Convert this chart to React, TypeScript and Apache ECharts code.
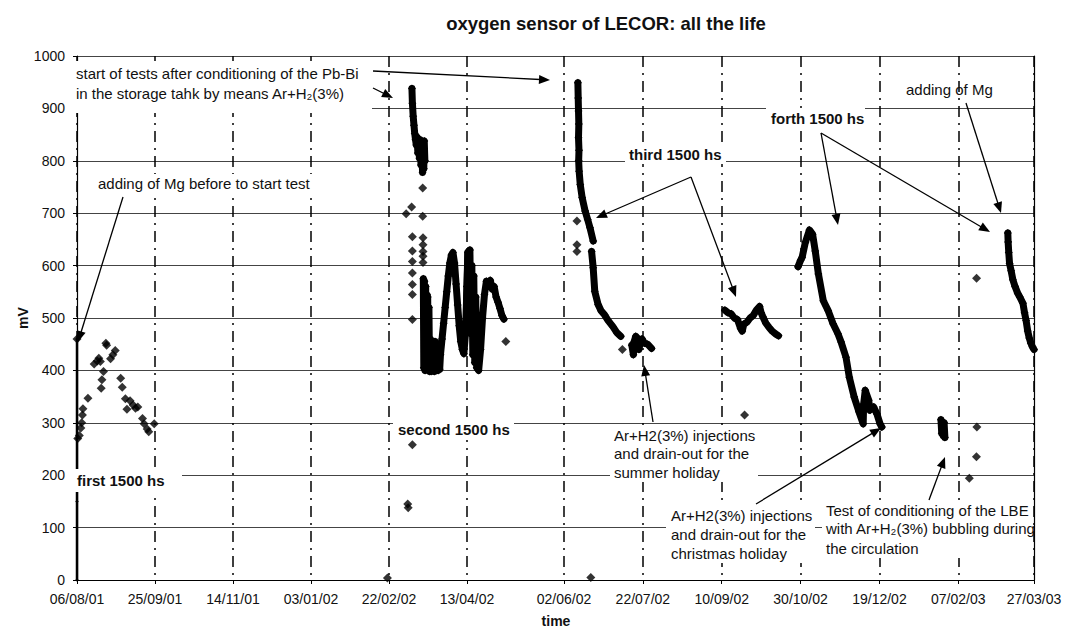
import React, { useEffect, useRef } from "react";
import * as echarts from "echarts";

// x values: days since 06/08/01 ; y values: mV
const X_INTERVAL = 50;
const Y_MAX = 1000;
const Y_INTERVAL = 100;

const startLine = [[0, 0], [0, 150], [0, 270], [0, 460]];

const firstTest = [
  [0, 460], [0.5, 270], [1.5, 276], [2.5, 290], [3, 300], [3.5, 315], [3.8, 327], [7, 347],
  [11, 412], [13, 418], [14, 423], [15, 417], [15.5, 366], [16, 382], [17, 398], [18.5, 452],
  [19, 448], [21.5, 422], [23, 430], [24.5, 438], [28, 385], [29, 368], [31, 346], [32, 326],
  [34, 342], [36, 334], [37.5, 328], [39, 330], [42, 308], [43, 298], [45, 288], [46, 283], [49.5, 298],
];

const secondIsolated = [
  [199, 4], [212, 145], [212.3, 138], [215, 258], [211, 699], [214.5, 712], [221.6, 694], [221.6, 748],
  [215, 655], [215, 628], [215, 608], [215, 586], [215, 564], [215, 545], [215, 497],
  [221.8, 653], [221.8, 640], [221.8, 627], [221.8, 618], [221.8, 606], [270, 455],
];

const secondDescent = [
  [214.7, 938], [215, 910], [215.5, 885], [216, 868], [216.5, 852], [217, 840], [217.5, 830],
  [218, 845], [218.5, 815], [219, 835], [219.5, 805], [220, 840], [220.5, 792], [221, 830],
  [221.5, 778], [222, 820], [222.3, 785], [222.6, 838], [223, 800],
];

const secondWaves = [
  [222, 575], [222.3, 405], [222.7, 570], [223.1, 400], [223.5, 560], [223.9, 402], [224.3, 545],
  [224.8, 540], [225.2, 405], [225.6, 520], [226, 398], [226.5, 460], [227, 398], [227.5, 455],
  [228, 400], [228.5, 450], [229, 398], [229.5, 455], [230, 440], [230.5, 400], [231, 450],
  [231.5, 400], [232, 425], [232.5, 402], [233, 430], [234, 460], [235, 490], [236, 520], [237, 550],
  [238, 580], [239, 605], [240, 620], [241, 625], [242, 605], [243, 565], [244, 525], [245, 485],
  [246, 455], [247, 440], [248, 432], [249, 470], [250, 560], [250.5, 625], [251, 540], [251.5, 630],
  [252, 470], [252.5, 600], [253, 430], [253.5, 580], [254, 415], [254.5, 540], [255, 405],
  [256, 400], [257, 440], [258, 500], [259, 545], [260, 570], [261, 560], [262, 572], [263, 555],
  [264, 560], [265, 540], [266, 530], [267, 518], [268, 505], [269, 498],
];

const thirdTop = [
  [308.8, 949], [309, 920], [309.2, 895], [309.4, 870], [309.2, 844], [309.5, 820], [309.3, 800],
  [309.6, 780], [310.3, 755], [311.5, 730], [313.4, 704], [315, 688], [316.5, 672], [318.5, 647],
];
const thirdFall = [
  [317.5, 627], [318.5, 596], [319.5, 551], [321.6, 526], [323.5, 514], [325.7, 506], [328, 495],
  [330.9, 484], [333.5, 472], [336, 465],
];
const thirdIsolated = [[308.2, 685], [308.2, 640], [308.2, 627], [337, 440], [317, 5], [414.5, 315]];
const thirdSummer = [
  [343, 448], [344, 430], [344.5, 455], [345.5, 465], [346.5, 462], [347.5, 440], [348.5, 455],
  [349.5, 460], [351, 452], [353, 450], [355.5, 442],
];
const thirdSeptember = [
  [402, 515], [404, 510], [406, 508], [408, 500], [410, 497], [412, 480], [413, 475], [414, 488],
  [416, 492], [418, 500], [420, 505], [422, 515], [424, 522], [425, 510], [426, 503], [428, 490],
  [430, 482], [432, 475], [434, 470], [436, 466],
];

const fourthTest = [
  [448.4, 598], [450, 610], [451, 616], [453, 644], [455.6, 668], [457.6, 660], [459.3, 628],
  [461.3, 584], [464.4, 533], [467.5, 514], [470.6, 489], [473.7, 470], [475.7, 454], [478.8, 425],
  [480.9, 387], [484, 349], [487, 321], [489.7, 298], [490, 336], [491, 362], [493.2, 343],
  [494, 324], [496.3, 330], [498.4, 317], [500.4, 298], [501.5, 292],
];

const conditioningTest = [[539, 306], [539.5, 280], [540, 300], [540.5, 275], [541, 300], [541.5, 272]];
const lateIsolated = [[557, 194], [561.5, 235], [561.8, 292], [561.6, 576]];

const fifthTest = [
  [581.4, 662], [581.6, 645], [582, 625], [582.5, 604], [583.5, 590], [584.6, 573], [586, 560],
  [587.7, 547], [589, 540], [591, 528], [592, 510], [593, 495], [594, 475], [595, 462], [596, 452],
  [597, 445], [598, 440],
];

// the printed time axis is drawn in three pieces (the 13/04/02 - 02/06/02 step is wider)
const AXIS_PIECES = [
  { min: 0, max: 250, left: 77, width: 390, labels: true },
  { min: 250, max: 300, left: 467, width: 97, labels: false },
  { min: 300, max: 598, left: 564, width: 470, labels: true },
];

const START_UTC = Date.UTC(2001, 7, 6);
function dayLabel(d: number): string {
  const t = new Date(START_UTC + Math.round(d) * 86400000);
  const dd = String(t.getUTCDate()).padStart(2, "0");
  const mm = String(t.getUTCMonth() + 1).padStart(2, "0");
  const yy = String(t.getUTCFullYear() % 100).padStart(2, "0");
  return `${dd}/${mm}/${yy}`;
}

const FONT = '"Liberation Sans", Arial, sans-serif';
const TOP = 56;
const BOTTOM = 51;

function txt(x: number, y: number, text: string, bold = false, size = 15, align = "left") {
  return {
    type: "text",
    x,
    y,
    z: 20,
    style: {
      text,
      font: `${bold ? "bold " : ""}${size}px ${FONT}`,
      fill: "#111",
      align,
      verticalAlign: "middle",
      textAlign: align,
      textVerticalAlign: "middle",
    },
  };
}

function box(x: number, y: number, w: number, h: number) {
  return { type: "rect", z: 15, shape: { x, y, width: w, height: h }, style: { fill: "#fff" } };
}

function arrow(x1: number, y1: number, x2: number, y2: number) {
  const dx = x2 - x1;
  const dy = y2 - y1;
  const len = Math.sqrt(dx * dx + dy * dy);
  const ux = dx / len;
  const uy = dy / len;
  const px = -uy;
  const py = ux;
  const L = 11;
  const W = 4.5;
  return [
    { type: "line", z: 21, shape: { x1, y1, x2: x2 - ux * 5, y2: y2 - uy * 5 }, style: { stroke: "#000", lineWidth: 1.3 } },
    {
      type: "polygon",
      z: 21,
      shape: {
        points: [
          [x2, y2],
          [x2 - ux * L + px * W, y2 - uy * L + py * W],
          [x2 - ux * L - px * W, y2 - uy * L - py * W],
        ],
      },
      style: { fill: "#000" },
    },
  ];
}

export default function App() {
  const ref = useRef<HTMLDivElement>(null);
  useEffect(() => {
    document.body.style.margin = "0";
    if (!ref.current) return;
    const chart = echarts.init(ref.current, undefined, { renderer: "svg" });

    const series: any[] = [];
    const addSeries = (name: string, data: number[][], kind: "scatter" | "line", width = 7) => {
      AXIS_PIECES.forEach((p, gi) => {
        const idx: number[] = [];
        data.forEach((d, i) => {
          if (d[0] >= p.min && d[0] <= p.max) idx.push(i);
        });
        if (!idx.length) return;
        let part: number[][];
        if (kind === "line") {
          const a = Math.max(0, idx[0] - 1);
          const b = Math.min(data.length - 1, idx[idx.length - 1] + 1);
          part = data.slice(a, b + 1);
        } else {
          part = idx.map((i) => data[i]);
        }
        const base: any = {
          name: `${name}-${gi}`,
          xAxisIndex: gi,
          yAxisIndex: gi,
          data: part,
          symbol: "diamond",
          itemStyle: { color: "#000" },
          z: 3,
          clip: true,
        };
        if (kind === "scatter") {
          series.push({ ...base, type: "scatter", symbolSize: 9 });
        } else {
          series.push({
            ...base,
            type: "line",
            symbolSize: width + 1,
            showSymbol: true,
            showAllSymbol: true,
            lineStyle: { color: "#000", width, join: "round", cap: "round" },
          });
        }
      });
    };

    addSeries("startLine", startLine, "line", 2.5);
    addSeries("firstTest", firstTest, "scatter");
    addSeries("secondIsolated", secondIsolated, "scatter");
    addSeries("secondDescent", secondDescent, "line");
    addSeries("secondWaves", secondWaves, "line");
    addSeries("thirdTop", thirdTop, "line");
    addSeries("thirdFall", thirdFall, "line");
    addSeries("thirdIsolated", thirdIsolated, "scatter");
    addSeries("thirdSummer", thirdSummer, "line");
    addSeries("thirdSeptember", thirdSeptember, "line");
    addSeries("fourthTest", fourthTest, "line");
    addSeries("conditioningTest", conditioningTest, "line");
    addSeries("lateIsolated", lateIsolated, "scatter");
    addSeries("fifthTest", fifthTest, "line");

    const grids = AXIS_PIECES.map((p) => ({ left: p.left, width: p.width, top: TOP, bottom: BOTTOM }));

    const xAxes = AXIS_PIECES.map((p, gi) => ({
      type: "value",
      gridIndex: gi,
      min: p.min,
      max: p.max,
      interval: X_INTERVAL,
      axisLine: { show: true, lineStyle: { color: "#000", width: 1.2 } },
      axisTick: { show: p.labels, length: 4, lineStyle: { color: "#000" } },
      axisLabel: {
        show: p.labels,
        formatter: (v: number) => dayLabel(v),
        fontFamily: FONT,
        fontSize: 14,
        color: "#111",
        margin: 12,
        showMaxLabel: true,
        showMinLabel: true,
      },
      splitLine: {
        show: p.labels,
        lineStyle: { color: "#000", width: 1.5, type: [11, 6, 2, 6] },
      },
    }));

    const yAxes = AXIS_PIECES.map((p, gi) => ({
      type: "value",
      gridIndex: gi,
      min: 0,
      max: Y_MAX,
      interval: Y_INTERVAL,
      position: gi === 2 ? "right" : "left",
      name: gi === 0 ? "mV" : "",
      nameLocation: "middle",
      nameGap: 33,
      nameRotate: 90,
      nameTextStyle: { fontFamily: FONT, fontWeight: "bold", fontSize: 14, color: "#111" },
      axisLine: { show: gi !== 1, lineStyle: { color: "#000", width: 1.2 } },
      axisTick: { show: gi === 0, length: 4, lineStyle: { color: "#000" } },
      axisLabel: {
        show: gi === 0,
        formatter: (v: number) => String(v),
        fontFamily: FONT,
        fontSize: 14,
        color: "#111",
        margin: 12,
      },
      splitLine: { show: true, lineStyle: { color: "#444", width: 1 } },
    }));

    const graphics: any[] = [
      {
        type: "text",
        x: 606,
        y: 23,
        z: 20,
        style: {
          text: "oxygen sensor of LECOR: all the life",
          font: `bold 18.5px ${FONT}`,
          fill: "#111",
          align: "center",
          verticalAlign: "middle",
          textAlign: "center",
          textVerticalAlign: "middle",
        },
      },
      txt(556, 621, "time", true, 14, "center"),
      box(72, 61, 300, 52),
      txt(76, 73, "start of tests after conditioning of the Pb-Bi"),
      txt(76, 93, "in the storage tahk by means Ar+H₂(3%)"),
      ...arrow(373, 71, 550, 80),
      ...arrow(373, 88, 393, 98),
      box(94, 174, 220, 18),
      txt(98, 183, "adding of Mg before to start test"),
      ...arrow(123, 197, 78, 342),
      box(73, 469, 109, 23),
      txt(77, 480, "first 1500 hs", true),
      box(393, 419, 121, 21),
      txt(398, 429, "second 1500 hs", true),
      box(625, 145, 101, 19),
      txt(629, 154, "third 1500 hs", true),
      ...arrow(691, 177, 596, 218),
      ...arrow(691, 177, 736, 297),
      box(766, 108, 99, 20),
      txt(771, 118, "forth 1500 hs", true),
      ...arrow(821, 133, 838, 225),
      ...arrow(821, 133, 990, 232),
      txt(906, 89, "adding of Mg"),
      ...arrow(966, 103, 1001, 213),
      box(610, 425, 148, 57),
      txt(614, 435, "Ar+H2(3%) injections"),
      txt(614, 453, "and drain-out for the"),
      txt(614, 472, "summer holiday"),
      ...arrow(653, 422, 644, 365),
      box(666, 505, 149, 58),
      txt(671, 515, "Ar+H2(3%) injections"),
      txt(671, 534, "and drain-out for the"),
      txt(671, 553, "christmas holiday"),
      ...arrow(756, 504, 881, 428),
      box(822, 500, 211, 58),
      txt(826, 510, "Test of conditioning of the LBE"),
      txt(826, 528, "with Ar+H₂(3%) bubbling during"),
      txt(826, 548, "the circulation"),
      ...arrow(929, 500, 945, 457),
    ];

    chart.setOption({
      animation: false,
      backgroundColor: "#fff",
      grid: grids,
      xAxis: xAxes,
      yAxis: yAxes,
      series,
      graphic: graphics,
    });
    return () => chart.dispose();
  }, []);
  return <div ref={ref} style={{ width: 1078, height: 631 }} />;
}
